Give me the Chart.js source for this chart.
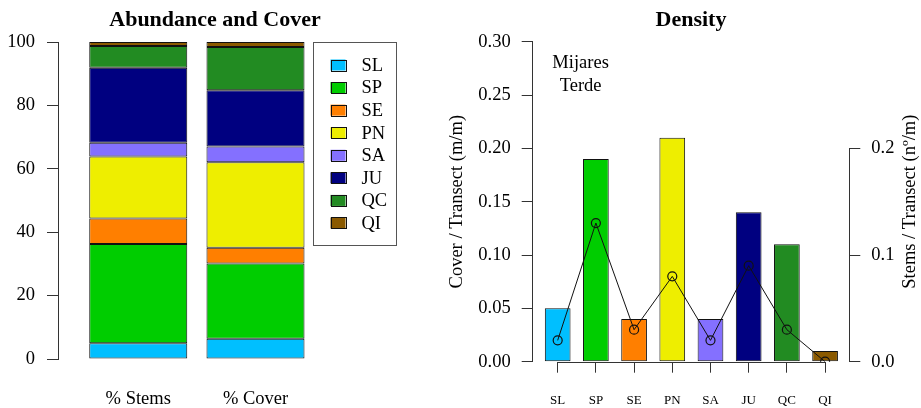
<!DOCTYPE html>
<html>
<head>
<meta charset="utf-8">
<script src="https://cdn.jsdelivr.net/npm/chart.js@4.4.1/dist/chart.umd.min.js"></script>
<style>
  html, body { margin: 0; padding: 0; background: #fff; }
  #wrap { position: relative; width: 921px; height: 408px; }
  canvas { position: absolute; top: 0; }
  #share { left: 0; }
  #density { left: 430px; }
</style>
</head>
<body>
<div id="wrap">
  <canvas id="share" width="430" height="408"></canvas>
  <canvas id="density" width="491" height="408"></canvas>
</div>
<script>
// Species recorded along the transects
const species = ['SL', 'SP', 'SE', 'PN', 'SA', 'JU', 'QC', 'QI'];
const speciesColors = ['#00BFFF', '#00CD00', '#FF7F00', '#EEEE00', '#8470FF', '#000080', '#228B22', '#8B5A00'];

// Relative abundance (% of stems) and relative cover (% of cover) per species
const shareLabels = ['% Stems', '% Cover'];
const stemsPct = [5.0, 31.3, 8.0, 19.6, 4.3, 23.7, 6.8, 1.3];
const coverPct = [6.4, 23.7, 5.0, 27.0, 4.9, 17.8, 13.6, 1.6];

// Density: cover per transect metre (bars) and stems per transect metre (line)
const coverDensity = [0.05, 0.19, 0.04, 0.21, 0.04, 0.14, 0.11, 0.01];
const stemDensity = [0.02, 0.13, 0.03, 0.08, 0.02, 0.09, 0.03, 0.00];

const siteName = ['Mijares', 'Terde'];
const coverAxisTitle = 'Cover / Transect (m/m)';
const stemsAxisTitle = 'Stems / Transect (n\u00BA/m)';

const SERIF = "'Liberation Serif', 'Times New Roman', serif";
Chart.defaults.font.family = SERIF;
Chart.defaults.color = '#000';

const AXIS = '#333';

// Barplot-style category placement: the first bar centre sits `lead`
// category widths in from the axis, and the axis spans `span` widths.
const insetCategories = (lead, span) => (scale) => {
  scale._startValue = -lead;
  scale._valueRange = span;
};

// Boxed species key drawn beside the stacked bars
const speciesKey = {
  id: 'speciesKey',
  afterDraw(chart, args, o) {
    const { ctx, chartArea } = chart;
    const x0 = o.left, y0 = chartArea.top;
    ctx.save();
    ctx.lineWidth = 1;
    ctx.strokeStyle = o.borderColor;
    ctx.strokeRect(Math.round(x0) + 0.5, Math.round(y0) + 0.5, o.width, o.height);
    ctx.font = `${o.fontSize}px ${SERIF}`;
    ctx.textAlign = 'left';
    ctx.textBaseline = 'middle';
    chart.data.datasets.forEach((ds, i) => {
      const cy = y0 + o.firstRow + i * o.rowHeight;
      const sx = x0 + o.swatchX, sy = cy - o.swatchH / 2;
      ctx.fillStyle = ds.backgroundColor;
      ctx.fillRect(sx, sy, o.swatchW, o.swatchH);
      ctx.strokeStyle = '#111';
      ctx.strokeRect(Math.round(sx) + 0.5, Math.round(sy) + 0.5, o.swatchW, o.swatchH);
      ctx.fillStyle = '#000';
      ctx.fillText(ds.label, x0 + o.textX, cy + 1);
    });
    ctx.restore();
  }
};

// Axis lines spanning only the labelled range, the site name and the right axis title
const densityExtras = {
  id: 'densityExtras',
  afterDraw(chart, args, o) {
    const { ctx, chartArea, scales } = chart;
    const { x, y, y2 } = scales;
    ctx.save();
    ctx.strokeStyle = AXIS;
    ctx.lineWidth = 1;
    ctx.beginPath();
    const yb = Math.round(chartArea.bottom) + 0.5;
    ctx.moveTo(x.getPixelForTick(0), yb);
    ctx.lineTo(x.getPixelForTick(x.ticks.length - 1), yb);
    const xr = Math.round(y2.left) + 0.5;
    ctx.moveTo(xr, y2.getPixelForValue(0));
    ctx.lineTo(xr, y2.getPixelForValue(y2.ticks[y2.ticks.length - 1].value));
    ctx.stroke();

    ctx.fillStyle = '#000';
    ctx.font = `${o.fontSize}px ${SERIF}`;
    ctx.textAlign = 'center';
    ctx.textBaseline = 'alphabetic';
    const lx = x.getPixelForValue(o.siteAt[0]);
    const ly = y.getPixelForValue(o.siteAt[1]);
    siteName.forEach((line, i) => ctx.fillText(line, lx, ly + i * o.siteLine));

    ctx.translate(y2.right - o.titleOffset, (chartArea.top + chartArea.bottom) / 2);
    ctx.rotate(-Math.PI / 2);
    ctx.textBaseline = 'middle';
    ctx.fillText(stemsAxisTitle, 0, 0);
    ctx.restore();
  }
};

const tickFont = { family: SERIF, size: 18.5 };
const titleFont = { family: SERIF, size: 22, weight: 'bold' };

new Chart(document.getElementById('share'), {
  type: 'bar',
  data: {
    labels: shareLabels,
    datasets: species.map((sp, i) => ({
      label: sp,
      data: [stemsPct[i], coverPct[i]],
      backgroundColor: speciesColors[i],
      borderColor: '#111',
      borderWidth: 1,
      borderSkipped: false,
      categoryPercentage: 1,
      barPercentage: 0.836
    }))
  },
  options: {
    responsive: false,
    animation: false,
    devicePixelRatio: 1,
    layout: { padding: { left: 0, right: 58, top: 0, bottom: 0 } },
    plugins: {
      legend: { display: false },
      tooltip: { enabled: false },
      title: {
        display: true, text: 'Abundance and Cover', fullSize: false,
        font: titleFont, color: '#000', padding: { top: 6.8, bottom: 8.8 }
      },
      speciesKey: {
        left: 313, width: 83, height: 203, firstRow: 23, rowHeight: 22.57,
        swatchX: 17.5, swatchW: 15, swatchH: 11, textX: 48.5,
        fontSize: 18.5, borderColor: '#555'
      }
    },
    scales: {
      x: {
        stacked: true,
        offset: true,
        grid: { display: false, drawTicks: false },
        border: { display: false },
        ticks: { font: tickFont, color: '#000', padding: 29, maxRotation: 0 },
        afterFit: (s) => { s.height = 49; },
        afterBuildTicks: insetCategories(0.6844, 2.678)
      },
      y: {
        stacked: true,
        min: 0, max: 100,
        ticks: { stepSize: 20, font: tickFont, color: '#000', padding: 12 },
        grid: { drawOnChartArea: false, drawTicks: true, tickLength: 11, color: AXIS },
        border: { display: true, color: AXIS, width: 1 },
        afterFit: (s) => { s.width = 58; }
      }
    }
  },
  plugins: [speciesKey]
});

new Chart(document.getElementById('density'), {
  type: 'bar',
  data: {
    labels: species,
    datasets: [
      {
        type: 'line',
        label: 'Stems / Transect',
        data: stemDensity,
        yAxisID: 'y2',
        order: 0,
        borderColor: '#111',
        borderWidth: 1,
        pointRadius: 4.5,
        pointHoverRadius: 4.5,
        pointBorderColor: '#111',
        pointBorderWidth: 1.2,
        pointBackgroundColor: 'rgba(0,0,0,0)',
        tension: 0,
        fill: false
      },
      {
        type: 'bar',
        label: 'Cover / Transect',
        data: coverDensity,
        yAxisID: 'y',
        order: 1,
        backgroundColor: speciesColors,
        borderColor: '#111',
        borderWidth: 1,
        borderSkipped: false,
        categoryPercentage: 1,
        barPercentage: 0.673
      }
    ]
  },
  options: {
    responsive: false,
    animation: false,
    devicePixelRatio: 1,
    layout: { padding: 0 },
    plugins: {
      legend: { display: false },
      tooltip: { enabled: false },
      title: {
        display: true, text: 'Density', fullSize: false,
        font: titleFont, color: '#000', padding: { top: 6.8, bottom: 8.5 }
      },
      densityExtras: {
        fontSize: 18.5, siteAt: [0.6, 0.2756], siteLine: 23.3, titleOffset: 11
      }
    },
    scales: {
      x: {
        type: 'category',
        offset: true,
        grid: { display: true, drawOnChartArea: false, drawTicks: true, tickLength: 11, offset: false, color: AXIS },
        border: { display: false },
        ticks: { font: { family: SERIF, size: 13 }, color: '#000', padding: 20, autoSkip: false, maxRotation: 0 },
        afterFit: (s) => { s.height = 46.3; },
        afterBuildTicks: insetCategories(0.654, 8.288)
      },
      y: {
        position: 'left',
        min: 0, max: 0.3,
        ticks: { stepSize: 0.05, callback: (v) => v.toFixed(2), font: tickFont, color: '#000', padding: 11 },
        grid: { drawOnChartArea: false, drawTicks: true, tickLength: 11, color: AXIS },
        border: { display: true, color: AXIS, width: 1 },
        title: { display: true, text: coverAxisTitle, font: tickFont, color: '#000', padding: { top: 16, bottom: 0 } },
        afterFit: (s) => { s.width = 102.7; }
      },
      y2: {
        position: 'right',
        min: 0, max: 0.3,
        ticks: { stepSize: 0.1, callback: (v) => v.toFixed(1), font: tickFont, color: '#000', padding: 11 },
        grid: { drawOnChartArea: false, drawTicks: true, tickLength: 11, color: AXIS },
        border: { display: false },
        afterBuildTicks: (s) => { s.ticks = s.ticks.filter((t) => t.value <= 0.2 + 1e-9); },
        afterFit: (s) => { s.width = 71.7; }
      }
    }
  },
  plugins: [densityExtras]
});
</script>
</body>
</html>
